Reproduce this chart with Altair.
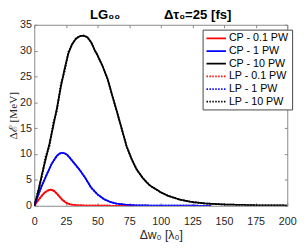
import altair as alt
import pandas as pd

# ---- data ----
x_red = [0, 2, 4, 6, 8, 10, 12, 13, 14, 16, 18, 20, 22, 24, 26, 28, 30, 34, 40, 50, 60, 70, 80]
y_red_cp = [0, 0.7, 1.35, 1.95, 2.5, 2.85, 3.08, 3.1, 3.06, 2.8, 2.3, 1.75, 1.2, 0.8, 0.5, 0.32, 0.2, 0.1, 0.04, 0.01, 0.005, 0.002, 0]
y_red_lp = [0, 0.72, 1.33, 1.97, 2.48, 2.86, 3.07, 3.1, 3.05, 2.8, 2.3, 1.75, 1.2, 0.8, 0.5, 0.32, 0.2, 0.1, 0.04, 0.01, 0.005, 0.002, 0]

x_blue = [0, 2, 4, 6, 8, 10, 12, 14, 16, 18, 20, 22, 24, 26, 28, 30, 33, 36, 40, 45, 50, 55, 60, 65, 72, 80, 100, 120, 140]
y_blue_cp = [0, 1.3, 2.7, 3.9, 5.0, 6.1, 7.2, 8.2, 9.0, 9.7, 10.1, 10.25, 10.15, 9.85, 9.3, 8.7, 7.8, 6.9, 5.5, 3.5, 2.2, 1.3, 0.75, 0.42, 0.2, 0.09, 0.02, 0.01, 0]
y_blue_lp = [0, 1.4, 2.6, 4.0, 4.9, 6.2, 7.1, 8.3, 8.9, 9.7, 10.1, 10.25, 10.15, 9.85, 9.3, 8.7, 7.8, 6.9, 5.5, 3.5, 2.2, 1.3, 0.75, 0.42, 0.2, 0.09, 0.02, 0.01, 0]

x_black = [0, 3, 6, 9, 12, 15, 18, 21, 24, 27, 30, 33, 36, 39, 42, 45, 48, 50, 54, 58, 62, 65, 69, 73, 77, 81, 86, 91, 100, 106, 115, 124, 135, 150, 175, 200]
y_black_cp = [0, 2.6, 6.0, 9.0, 12.0, 15.4, 19.0, 23.0, 26.5, 29.5, 31.3, 32.3, 32.8, 32.9, 32.6, 31.6, 30.0, 29.1, 27.0, 24.5, 21.0, 18.5, 15.0, 11.5, 9.0, 7.0, 5.3, 4.0, 2.6, 1.9, 1.2, 0.75, 0.45, 0.25, 0.1, 0.05]
y_black_lp = [0, 2.9, 5.6, 9.6, 11.5, 16.0, 18.5, 23.5, 26.0, 29.8, 31.2, 32.4, 32.8, 32.9, 32.6, 31.6, 30.0, 29.1, 27.0, 24.5, 21.0, 18.5, 15.0, 11.5, 9.0, 7.0, 5.3, 4.0, 2.6, 1.9, 1.2, 0.75, 0.45, 0.25, 0.1, 0.05]

series_names = ["CP - 0.1 PW", "CP - 1 PW", "CP - 10 PW", "LP - 0.1 PW", "LP - 1 PW", "LP - 10 PW"]
series_colors = ["#ff0000", "#0000ff", "#000000", "#ff0000", "#0000ff", "#000000"]
series_dashes = [[1, 0], [1, 0], [1, 0], [1.5, 1.5], [1.5, 1.5], [1.5, 1.5]]

x_ticks = [0, 25, 50, 75, 100, 125, 150, 175, 200]
y_ticks = [0, 5, 10, 15, 20, 25, 30, 35]

title_text = "LG₀₀" + "\u00a0" * 12 + "Δτ₀=25 [fs]"

rows = []
for name, xs, ys in [
    (series_names[0], x_red, y_red_cp),
    (series_names[1], x_blue, y_blue_cp),
    (series_names[2], x_black, y_black_cp),
    (series_names[3], x_red, y_red_lp),
    (series_names[4], x_blue, y_blue_lp),
    (series_names[5], x_black, y_black_lp),
]:
    for i, (a, b) in enumerate(zip(xs, ys)):
        rows.append({"series": name, "x": a, "y": b, "idx": i})
df = pd.DataFrame(rows)

font = "Liberation Sans"
xscale = alt.Scale(domain=[0, 200], nice=False)
yscale = alt.Scale(domain=[0, 35], nice=False)

legend = alt.Legend(title=None)

lines = alt.Chart(df).mark_line(strokeWidth=1.8, clip=True).encode(
    x=alt.X("x:Q", scale=xscale,
            axis=alt.Axis(title="Δw₀ [λ₀]", values=x_ticks, orient="bottom", offset=-3,
                          tickSize=3, domain=False, grid=False, labelPadding=10,
                          titlePadding=3, labelFontSize=11, titleFontSize=12.5,
                          titleFontWeight="normal", labelColor="#262626", titleColor="#262626",
                          tickColor="#888888", labelFlush=False)),
    y=alt.Y("y:Q", scale=yscale,
            axis=alt.Axis(title="Δℰ [MeV]", values=y_ticks, orient="left", offset=-3,
                          tickSize=3, domain=False, grid=False, labelPadding=3,
                          titlePadding=1, labelFontSize=11, titleFontSize=11.5,
                          titleFont="Liberation Serif", titleFontWeight="normal",
                          labelColor="#262626", titleColor="#262626", tickColor="#888888",
                          labelFlush=False)),
    color=alt.Color("series:N", scale=alt.Scale(domain=series_names, range=series_colors), legend=legend),
    strokeDash=alt.StrokeDash("series:N", scale=alt.Scale(domain=series_names, range=series_dashes), legend=legend),
    detail="series:N",
    order="idx:Q",
)

frame = alt.Chart(df).mark_point(opacity=0).encode(
    x=alt.X("x:Q", scale=xscale,
            axis=alt.Axis(title=None, labels=False, values=x_ticks, orient="top", offset=-3,
                          tickSize=3, domain=False, grid=False, tickColor="#888888")),
    y=alt.Y("y:Q", scale=yscale,
            axis=alt.Axis(title=None, labels=False, values=y_ticks, orient="right", offset=-3,
                          tickSize=3, domain=False, grid=False, tickColor="#888888")),
)

chart = alt.layer(lines, frame).resolve_axis(x="independent", y="independent").properties(
    width=260, height=186,
    title=alt.TitleParams(title_text, fontSize=13.5, font=font,
                          fontWeight="bold", anchor="middle", offset=-3, color="#000000"),
    autosize=alt.AutoSizeParams(type="none"),
    padding={"left": 27, "top": 14, "right": 10, "bottom": 35},
).configure_view(stroke="#888888", strokeWidth=1).configure_axis(
    labelFont=font, titleFont=font
).configure_legend(
    orient="none", legendX=173, legendY=5, strokeColor="#444444", fillColor="white",
    padding=3, symbolType="M-2,0L2,0", symbolSize=100, symbolStrokeWidth=1.8,
    symbolOffset=5, labelFont=font, labelFontSize=11, labelColor="#000000",
    labelOffset=7, rowPadding=2, cornerRadius=0
)

chart.save("out.html", embed_options={"renderer": "svg", "actions": False})
